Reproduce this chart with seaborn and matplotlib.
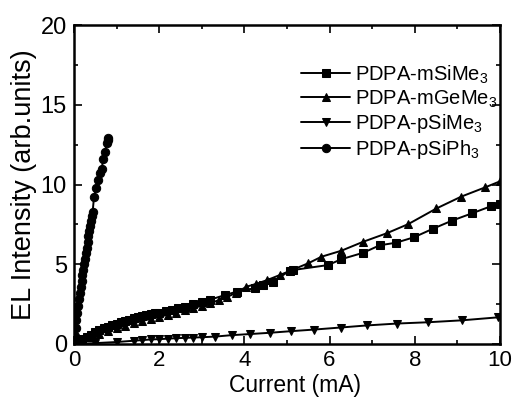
import matplotlib
matplotlib.use("Agg")
import matplotlib.pyplot as plt
import seaborn as sns
import pandas as pd
from matplotlib.ticker import MultipleLocator

sns.set_theme(style="ticks")
plt.rcParams['font.family'] = ['Liberation Sans', 'DejaVu Sans']
plt.rcParams['mathtext.fontset'] = 'custom'
plt.rcParams['mathtext.rm'] = 'Liberation Sans'
plt.rcParams['mathtext.it'] = 'Liberation Sans'
for k in ['text.color', 'axes.labelcolor', 'xtick.color', 'ytick.color', 'axes.edgecolor']:
    plt.rcParams[k] = 'black'

# PDPA-mSiMe3 (squares)
msi_x = [0, 0.1, 0.2, 0.3, 0.4, 0.5, 0.6, 0.7, 0.8, 0.9, 1.0, 1.1, 1.2, 1.3, 1.4, 1.5,
         1.6, 1.7, 1.8, 1.9, 2.0, 2.15, 2.3, 2.45, 2.6, 2.8, 3.0, 3.2, 3.55, 3.82, 4.25,
         4.43, 4.67, 5.07, 5.15, 5.97, 6.27, 6.79, 7.18, 7.56, 7.98, 8.43, 8.87, 9.34, 9.80, 10.0]
msi_y = [0, 0.12, 0.28, 0.43, 0.58, 0.72, 0.85, 0.97, 1.08, 1.18, 1.28, 1.37, 1.45, 1.53, 1.6, 1.67,
         1.74, 1.8, 1.86, 1.92, 1.97, 2.06, 2.15, 2.24, 2.34, 2.5, 2.65, 2.78, 3.07, 3.28, 3.5,
         3.7, 3.9, 4.6, 4.64, 4.95, 5.31, 5.72, 6.19, 6.35, 6.69, 7.23, 7.73, 8.19, 8.65, 8.8]

# PDPA-mGeMe3 (up triangles)
mge_x = [0, 0.2, 0.4, 0.6, 0.8, 1.0, 1.2, 1.4, 1.6, 1.8, 2.0, 2.2, 2.4, 2.6, 2.8, 3.0,
         3.2, 3.4, 3.6, 3.8, 4.05, 4.27, 4.54, 4.84, 5.5, 5.81, 6.28, 6.78, 7.34, 7.85,
         8.51, 9.09, 9.65, 10.0]
mge_y = [0, 0.2, 0.42, 0.62, 0.82, 1.0, 1.15, 1.3, 1.44, 1.57, 1.7, 1.83, 1.96, 2.1, 2.24, 2.4,
         2.55, 2.75, 2.95, 3.2, 3.59, 3.76, 4.01, 4.33, 5.06, 5.47, 5.85, 6.4, 6.94, 7.52,
         8.5, 9.24, 9.82, 10.2]

# PDPA-pSiMe3 (down triangles)
psi_x = [0, 0.5, 1.0, 1.4, 1.6, 1.8, 2.0, 2.2, 2.4, 2.6, 2.8, 3.0, 3.31, 3.70, 4.13, 4.6,
         5.09, 5.63, 6.26, 6.87, 7.59, 8.31, 9.1, 9.96]
psi_y = [0, 0.05, 0.12, 0.2, 0.24, 0.28, 0.3, 0.33, 0.36, 0.38, 0.4, 0.42, 0.46, 0.55, 0.62, 0.7,
         0.8, 0.9, 1.03, 1.16, 1.28, 1.36, 1.48, 1.67]

# PDPA-pSiPh3 (circles)
pph_x = [0, 0.02, 0.04, 0.06, 0.08, 0.10, 0.12, 0.14, 0.16, 0.18, 0.20, 0.22, 0.24, 0.26,
         0.28, 0.30, 0.32, 0.34, 0.36, 0.38, 0.40, 0.42, 0.44, 0.47, 0.52, 0.57, 0.61,
         0.65, 0.69, 0.73, 0.77, 0.79, 0.81]
pph_y = [0, 0.5, 1.0, 1.5, 1.95, 2.4, 2.8, 3.2, 3.6, 3.95, 4.3, 4.65, 5.0, 5.35,
         5.7, 6.05, 6.4, 6.75, 7.1, 7.4, 7.7, 8.0, 8.3, 9.19, 9.76, 10.28, 10.7,
         11.0, 11.58, 12.06, 12.58, 12.8, 12.9]

series = [
    ("PDPA-mSiMe$_3$", msi_x, msi_y, "s"),
    ("PDPA-mGeMe$_3$", mge_x, mge_y, "^"),
    ("PDPA-pSiMe$_3$", psi_x, psi_y, "v"),
    ("PDPA-pSiPh$_3$", pph_x, pph_y, "o"),
]

fig = plt.figure(figsize=(5.17, 3.99), dpi=100)
ax = fig.add_axes([0.143, 0.138, 0.824, 0.799])

for name, xs, ys, mk in series:
    df = pd.DataFrame({"x": xs, "y": ys})
    sns.lineplot(data=df, x="x", y="y", ax=ax, color="black", marker=mk,
                 markersize=6, markeredgecolor="black", linewidth=1.4,
                 sort=False, estimator=None, label=name)

ax.set_xlim(0, 10)
ax.set_ylim(0, 20)
ax.xaxis.set_major_locator(MultipleLocator(2))
ax.xaxis.set_minor_locator(MultipleLocator(1))
ax.yaxis.set_major_locator(MultipleLocator(5))
ax.yaxis.set_minor_locator(MultipleLocator(2.5))
ax.tick_params(which="both", direction="in", top=True, right=True, color="black",
               width=1.2)
ax.tick_params(which="major", length=6)
ax.tick_params(axis="x", which="major", pad=4.5, labelsize=16)
ax.tick_params(axis="y", which="major", pad=5, labelsize=17)
ax.tick_params(which="minor", length=3)
for sp in ax.spines.values():
    sp.set_linewidth(1.8)
    sp.set_color("black")

ax.set_xlabel("Current (mA)", fontsize=16.5, labelpad=0)
ax.xaxis.set_label_coords(0.52, -0.0935, transform=ax.transAxes)
ax.xaxis.label.set_va("top")
ax.set_ylabel("EL Intensity (arb.units)", fontsize=19.5, labelpad=3)

leg = ax.legend(loc="upper left", bbox_to_anchor=(0.515, 0.905), frameon=False,
                fontsize=14.5, handlelength=2.4, handletextpad=0.25, labelspacing=0.13,
                borderaxespad=0)

fig.savefig("out.png", dpi=100)
